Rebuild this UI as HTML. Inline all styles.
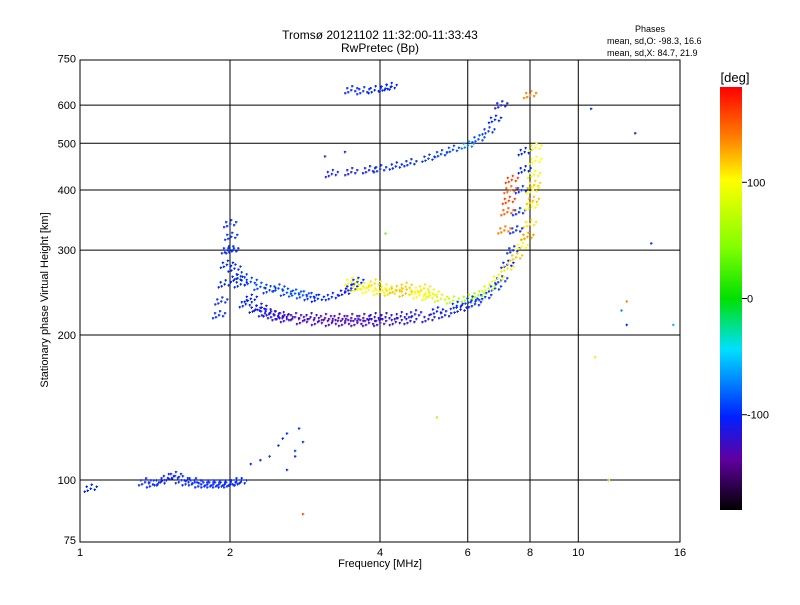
<!DOCTYPE html>
<html><head><meta charset="utf-8"><style>
body{margin:0;background:#fff;}
svg text{font-family:"Liberation Sans",sans-serif;}
</style></head><body>
<svg id="c" width="800" height="600" xmlns="http://www.w3.org/2000/svg">
<defs><linearGradient id="cg" x1="0" y1="1" x2="0" y2="0">
<stop offset="0" stop-color="#000000"/><stop offset="0.12" stop-color="#6000a0"/><stop offset="0.22" stop-color="#0020ff"/><stop offset="0.38" stop-color="#00e0ff"/><stop offset="0.5" stop-color="#00e000"/><stop offset="0.62" stop-color="#80ff00"/><stop offset="0.78" stop-color="#ffff00"/><stop offset="0.88" stop-color="#ff8000"/><stop offset="1" stop-color="#ff0000"/></linearGradient></defs>
<text x="380" y="39" font-size="12" text-anchor="middle">Tromsø 20121102 11:32:00-11:33:43</text>
<text x="380" y="52" font-size="12" text-anchor="middle">RwPretec (Bp)</text>
<text x="650" y="32" font-size="9" text-anchor="middle">Phases</text>
<text x="607" y="44" font-size="9">mean, sd,O: -98.3, 16.6</text>
<text x="607" y="56" font-size="9">mean, sd,X:  84.7, 21.9</text>
<text x="380" y="567" font-size="11" text-anchor="middle">Frequency [MHz]</text>
<text transform="translate(48,300) rotate(-90)" font-size="11" text-anchor="middle">Stationary phase Virtual Height [km]</text>
<g id="grid"></g><g id="pts"></g>
<rect x="80" y="60" width="600" height="482" fill="none" stroke="#000"/>
<rect x="720" y="87" width="22" height="423" fill="url(#cg)"/>
<text x="735" y="82" font-size="13" text-anchor="middle">[deg]</text>
<g id="cb"></g>
</svg>
<script>
const xTicks=[1,2,4,6,8,10,16];
const xTickLabels=["1","2","4","6","8","10","16"];
const yTicks=[75,100,200,300,400,500,600,750];
const yTickLabels=["75","100","200","300","400","500","600","750"];
const cbTicks=[100,0,-100];
const freqs=[1.05,1.35,1.4,1.45,1.5,1.55,1.6,1.65,1.7,1.75,1.8,1.85,1.9,1.95,2.0,2.05,2.1,
1.9,1.92,1.95,1.97,1.98,2.0,2.01,2.02,2.04,2.06,
2.1,2.2,2.3,2.4,2.5,2.6,2.8,3.0,3.2,3.4,3.6,3.8,4.0,4.3,4.6,5.0,5.4,5.8,6.2,6.5,6.8,7.0,7.2,7.4,7.5,7.6,7.7,7.8,7.8,
2.1,2.2,2.3,2.4,2.5,2.6,2.7,2.8,2.9,3.0,3.2,3.4,3.5,3.6,
3.6,3.8,4.0,4.2,4.5,4.8,5.0,5.3,5.6,6.0,6.3,6.6,6.9,7.2,7.5,7.7,7.9,8.0,8.05,8.1,8.15,8.2,8.2,8.15,8.1,
7.1,7.2,7.25,7.3,7.35,7.9,8.0,
3.2,3.5,3.8,4.0,4.3,4.6,5.0,5.3,5.6,6.0,6.3,6.6,6.8,7.0,
3.5,3.7,3.9,4.1,4.2,
2.15,2.25,2.35,2.45,2.55,2.7,2.9,3.1,3.3,3.5,3.7,3.9,4.1,4.4,4.7,5.2,5.7,6.1,
3.5,3.7,3.9,4.1,4.3,4.5,4.7,4.9,5.1,
2.2,2.3,2.4,2.5,2.55,2.6,2.7,2.75,2.8,2.6,2.7,
10.6,10.8,11.5,12.5,14,15.5,13,12.2,12.5,5.2,4.1,2.8,3.4,3.1];
const heights=[96,99,98,99,101,102,100,99,99,98,98,98,98,98,98,99,99,
220,235,255,280,300,340,320,300,275,262,
255,238,228,222,218,216,214,213,212,212,212,212,212,213,214,216,220,226,232,240,250,260,280,300,330,360,400,440,480,
265,258,252,248,250,245,244,242,240,238,240,245,250,258,
250,248,246,245,244,242,240,238,236,238,242,250,262,275,290,305,320,340,370,400,430,460,490,410,380,
330,360,380,400,420,320,630,
432,436,440,442,448,455,465,475,485,495,510,530,560,600,
645,642,645,650,655,
232,226,222,220,219,218,218,217,217,217,217,218,218,219,221,224,230,236,
258,252,256,250,248,252,246,250,244,
108,110,112,118,122,125,115,128,120,105,112,
590,180,100,235,310,210,525,225,210,135,325,85,480,470];
const phases=[-100,-100,-100,-100,-110,-100,-100,-100,-100,-100,-100,-100,-100,-100,-100,-100,-100,
-100,-100,-100,-100,-100,-100,-95,-100,-100,-100,
-100,-100,-110,-120,-120,-125,-130,-130,-130,-130,-130,-125,-125,-120,-120,-115,-110,-105,-100,-100,-95,-95,-100,-100,-100,-100,-100,-100,-100,
-95,-90,-90,-95,-90,-90,-85,-90,-95,-100,-100,-110,-110,-100,
90,100,105,110,120,100,90,80,70,60,60,80,95,110,120,100,100,110,100,95,90,100,100,115,120,
140,150,160,150,160,130,140,
-110,-110,-105,-105,-100,-100,-95,-95,-90,-70,-90,-95,-100,-110,
-100,-100,-100,-100,-100,
-100,-105,-110,-115,-120,-125,-125,-130,-130,-125,-125,-120,-120,-115,-110,-105,-100,-95,
100,95,110,105,120,115,100,110,95,
-100,-100,-95,-100,-100,-100,-100,-100,-100,-100,-100,
-100,110,120,140,-100,-60,-130,-70,-100,60,40,160,-110,-120];
const NS="http://www.w3.org/2000/svg";
function xs(f){return 80+150*Math.log2(f);}
function ys(h){return 480-481.7*Math.log10(h/100);}
function cs(v){return 510-(v+182)*423/364;}
const stops=[[0,[0,0,0]],[0.12,[96,0,160]],[0.22,[0,32,255]],[0.38,[0,224,255]],[0.5,[0,224,0]],[0.62,[128,255,0]],[0.78,[255,255,0]],[0.88,[255,128,0]],[1,[255,0,0]]];
function col(v){let t=Math.max(0,Math.min(1,(v+182)/364));for(let i=1;i<stops.length;i++){if(t<=stops[i][0]){const a=stops[i-1],b=stops[i];const u=(t-a[0])/(b[0]-a[0]);return 'rgb('+a[1].map((c,k)=>Math.round(c+(b[1][k]-c)*u)).join(',')+')';}}return 'red';}
function mk(tag,at,p){const e=document.createElementNS(NS,tag);for(const k in at)e.setAttribute(k,at[k]);p.appendChild(e);return e;}
const grid=document.getElementById('grid');
xTicks.forEach((t,i)=>{const x=xs(t);
 if(t>1&&t<16){const l=mk('line',{x1:x,y1:60,x2:x,y2:542,stroke:'#000'},grid);}
 const tx=mk('text',{x:x,y:556,'font-size':11,'text-anchor':'middle'},grid);tx.textContent=xTickLabels[i];
 
 });
yTicks.forEach((t,i)=>{const y=ys(t);
 if(t>75&&t<750){const l=mk('line',{x1:80,y1:y,x2:680,y2:y,stroke:'#000'},grid);}
 const tx=mk('text',{x:76,y:y+4,'font-size':11,'text-anchor':'end'},grid);tx.textContent=yTickLabels[i];
 
 });
const pts=document.getElementById('pts');
const offs=[[0,0],[4,1],[-3,2],[1,-4],[-4,-2],[6,-2],[-6,3]];
const nMain=freqs.length-14-11;
for(let i=0;i<freqs.length;i++){const x=xs(freqs[i]),y=ys(heights[i]),c=col(phases[i]);
 const g=mk('g',{},pts);
 
 
 const n=i>=nMain?1:offs.length;
 for(let k=0;k<n;k++){const px=x+offs[k][0],py=y+offs[k][1];
  mk('path',{d:`M${px-1} ${py}h2.5M${px} ${py-1}v2.5`,stroke:c,'stroke-width':1.1},g);}}
const cb=document.getElementById('cb');
cbTicks.forEach(v=>{const y=cs(v);
 mk('line',{x1:742,y1:y,x2:747,y2:y,stroke:'#000'},cb);
 const tx=mk('text',{x:747,y:y+4,'font-size':11},cb);tx.textContent=String(v);
 
 });
</script>
</body></html>
